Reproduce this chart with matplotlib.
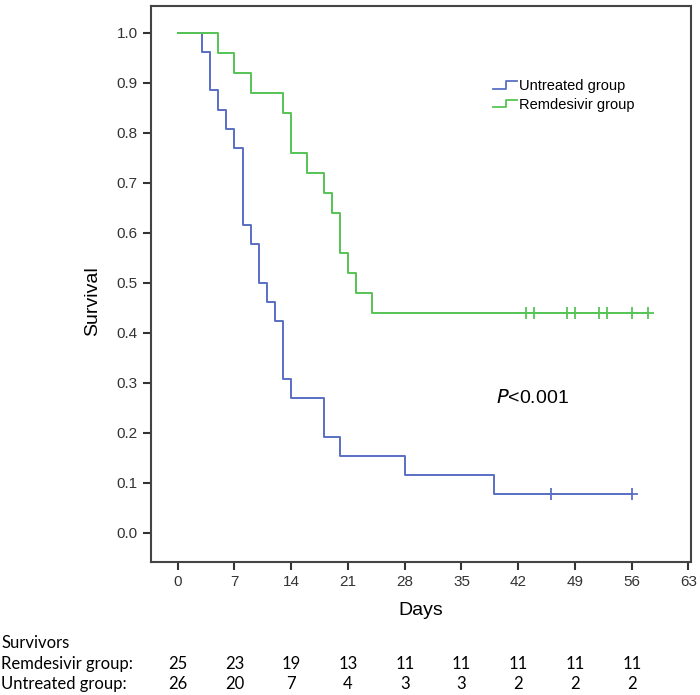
import numpy as np
import matplotlib
matplotlib.use('Agg')
import matplotlib.pyplot as plt
from matplotlib.lines import Line2D
from matplotlib.legend_handler import HandlerBase
import matplotlib.transforms as mtransforms

plt.rcParams['font.family'] = ['Liberation Sans', 'DejaVu Sans']

# Kaplan-Meier steps (day, survival after the drop)
untreated_days = [0, 3, 4, 5, 6, 7, 8, 9, 10, 11, 12, 13, 14, 18, 20, 28, 39, 56]
untreated_surv = [1.0, 0.962, 0.885, 0.846, 0.808, 0.769, 0.615, 0.577, 0.500, 0.462,
                  0.423, 0.308, 0.269, 0.192, 0.154, 0.115, 0.077, 0.077]
untreated_cens = [46, 56]
untreated_cens_surv = [0.077, 0.077]

remdes_days = [0, 5, 7, 9, 13, 14, 16, 18, 19, 20, 21, 22, 24, 58]
remdes_surv = [1.0, 0.96, 0.92, 0.88, 0.84, 0.76, 0.72, 0.68, 0.64, 0.56, 0.52, 0.48, 0.44, 0.44]
remdes_cens = [43, 44, 48, 49, 52, 53, 56, 58]
remdes_cens_surv = [0.44] * 8

xticks = [0, 7, 14, 21, 28, 35, 42, 49, 56, 63]
yticks = [0.0, 0.1, 0.2, 0.3, 0.4, 0.5, 0.6, 0.7, 0.8, 0.9, 1.0]

table_days = [0, 7, 14, 21, 28, 35, 42, 49, 56]
remdes_at_risk = [25, 23, 19, 13, 11, 11, 11, 11, 11]
untreated_at_risk = [26, 20, 7, 4, 3, 3, 2, 2, 2]

blue = '#5a6fc4'
green = '#55c455'


class StepHandler(HandlerBase):
    # little step shaped legend key like SPSS
    def create_artists(self, legend, orig_handle, xd, yd, w, h, fontsize, trans):
        xs = [xd, xd + w * 0.55, xd + w * 0.55, xd + w]
        ys = [yd + h * 0.15, yd + h * 0.15, yd + h * 0.85, yd + h * 0.85]
        ln = Line2D(xs, ys, color=orig_handle.get_color(), lw=1.3, transform=trans)
        return [ln]


fig = plt.figure(figsize=(7, 6.95), dpi=100)
ax = fig.add_axes([0.2157, 0.1914, 0.7713, 0.80])

l1, = ax.step(untreated_days, untreated_surv, where='post', color=blue, lw=1.4)
l2, = ax.step(remdes_days, remdes_surv, where='post', color=green, lw=1.4)
ax.plot(untreated_cens, untreated_cens_surv, '+', color=blue, ms=8, mew=1.3)
ax.plot(remdes_cens, remdes_cens_surv, '+', color=green, ms=8, mew=1.3)

ax.set_xlim(-3.3, 63.3)
ax.set_ylim(-0.058, 1.054)
ax.set_xticks(xticks)
ax.set_yticks(yticks)
ax.set_yticklabels(['%.1f' % v for v in yticks])
ax.tick_params(direction='out', length=6, width=1.5, colors='#333333', labelsize=11,
               top=False, right=False)
for s in ax.spines.values():
    s.set_color('#444444')
    s.set_linewidth(1.5)

ax.set_xlabel('Days', fontsize=14, labelpad=9)
ax.set_ylabel('Survival', fontsize=14)
ax.yaxis.set_label_coords(-0.093, 0.47)

ax.text(39.3, 0.27, r'$\it{P}$<0.001', fontsize=14, ha='left', va='center')

leg = ax.legend([l1, l2], ['Untreated group', 'Remdesivir group'],
                handler_map={Line2D: StepHandler()}, loc='upper left',
                bbox_to_anchor=(0.61, 0.892), frameon=False, fontsize=10.5,
                handlelength=1.6, handletextpad=0.15, labelspacing=0.3)

# at-risk table under the plot
tr = mtransforms.blended_transform_factory(ax.transData, fig.transFigure)
tf = 'Lato'
fs = 12
fig.text(0.002, 1 - 643 / 695, 'Survivors', fontsize=fs, family=tf, va='center')
fig.text(0.002, 1 - 664 / 695, 'Remdesivir group:', fontsize=fs, family=tf, va='center')
fig.text(0.002, 1 - 684 / 695, 'Untreated group:', fontsize=fs, family=tf, va='center')
for d, r, u in zip(table_days, remdes_at_risk, untreated_at_risk):
    fig.text(d, 1 - 664 / 695, str(r), transform=tr, fontsize=fs, family=tf,
             ha='center', va='center')
    fig.text(d, 1 - 684 / 695, str(u), transform=tr, fontsize=fs, family=tf,
             ha='center', va='center')

fig.savefig('out.png', dpi=100)
